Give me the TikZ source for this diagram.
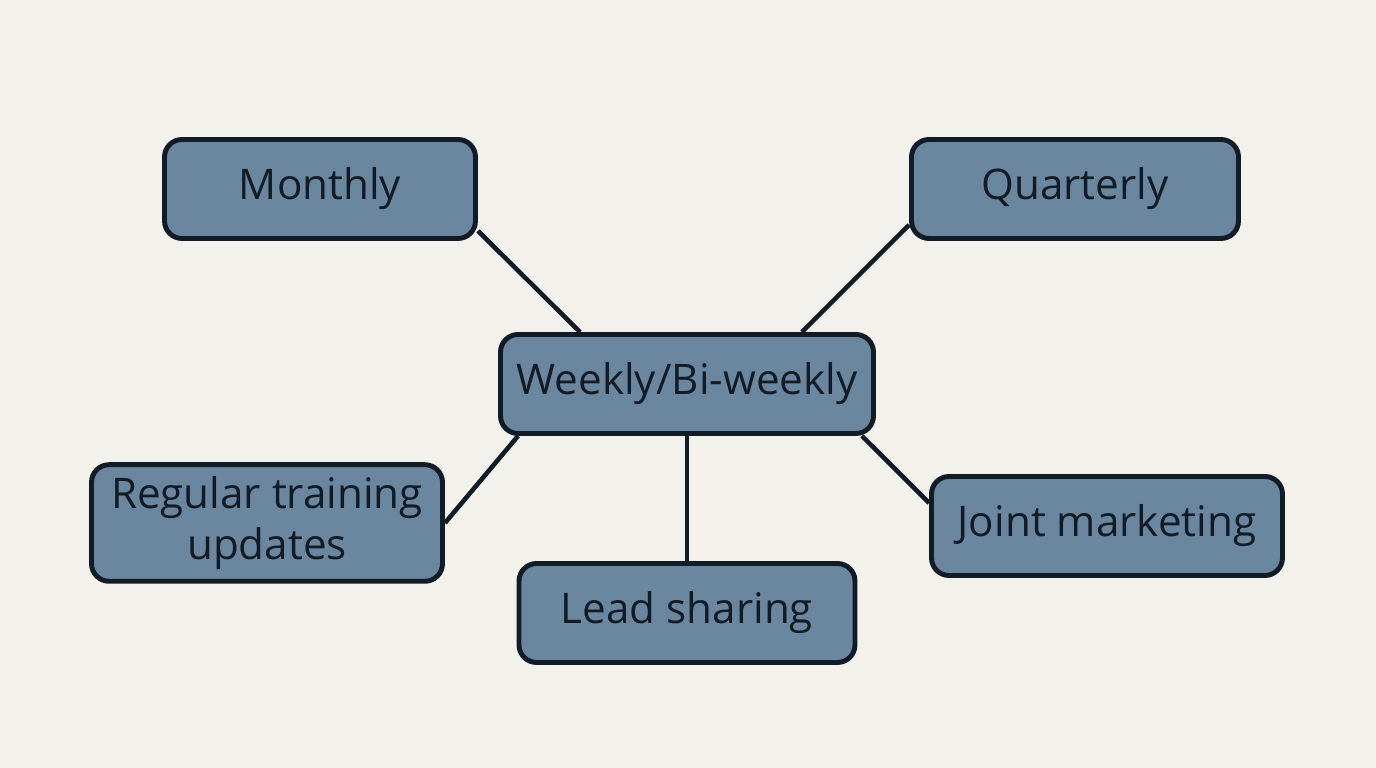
\documentclass[tikz,border=0pt]{standalone}
\usepackage{fontspec}
\setmainfont{Open Sans}
\usetikzlibrary{positioning}
\definecolor{bgcol}{HTML}{F3F1EC}
\definecolor{boxfill}{HTML}{6B87A0}
\definecolor{boxline}{HTML}{121C26}
\begin{document}
\begin{tikzpicture}[font=\fontsize{12}{14.5}\selectfont,
  topic/.style={draw=boxline, line width=1.4pt, fill=boxfill, rounded corners=5pt,
    minimum height=0.99cm, align=center, text=boxline},
  link/.style={draw=boxline, line width=1.3pt}]

% background
\fill[bgcol] (0,0) rectangle (13.76,7.68);
\useasboundingbox (0,0) rectangle (13.76,7.68);

% nodes
\node[topic, minimum width=3.73cm] (weekly)    at (6.87,3.84) {Weekly/Bi-weekly};
\node[topic, minimum width=3.11cm] (monthly)   at (3.20,5.79) {Monthly};
\node[topic, minimum width=3.27cm] (quarterly) at (10.75,5.79) {Quarterly};
\node[topic, minimum width=3.51cm, minimum height=1.06cm] (training) at (2.67,2.45) {Regular training\\updates};
\node[topic, minimum width=3.36cm] (lead)      at (6.87,1.55) {Lead sharing};
\node[topic, minimum width=3.51cm] (joint)     at (11.07,2.42) {Joint marketing};

% connectors
\draw[link] ([yshift=0.1cm]monthly.south east) -- ([xshift=0.82cm]weekly.north west);
\draw[link] ([yshift=0.16cm]quarterly.south west) -- ([xshift=-0.74cm]weekly.north east);
\draw[link] ([xshift=0.2cm]weekly.south west) -- (training.east);
\draw[link] (weekly.south) -- (lead.north);
\draw[link] ([xshift=-0.14cm]weekly.south east) -- ([yshift=0.23cm]joint.west);

\end{tikzpicture}
\end{document}
